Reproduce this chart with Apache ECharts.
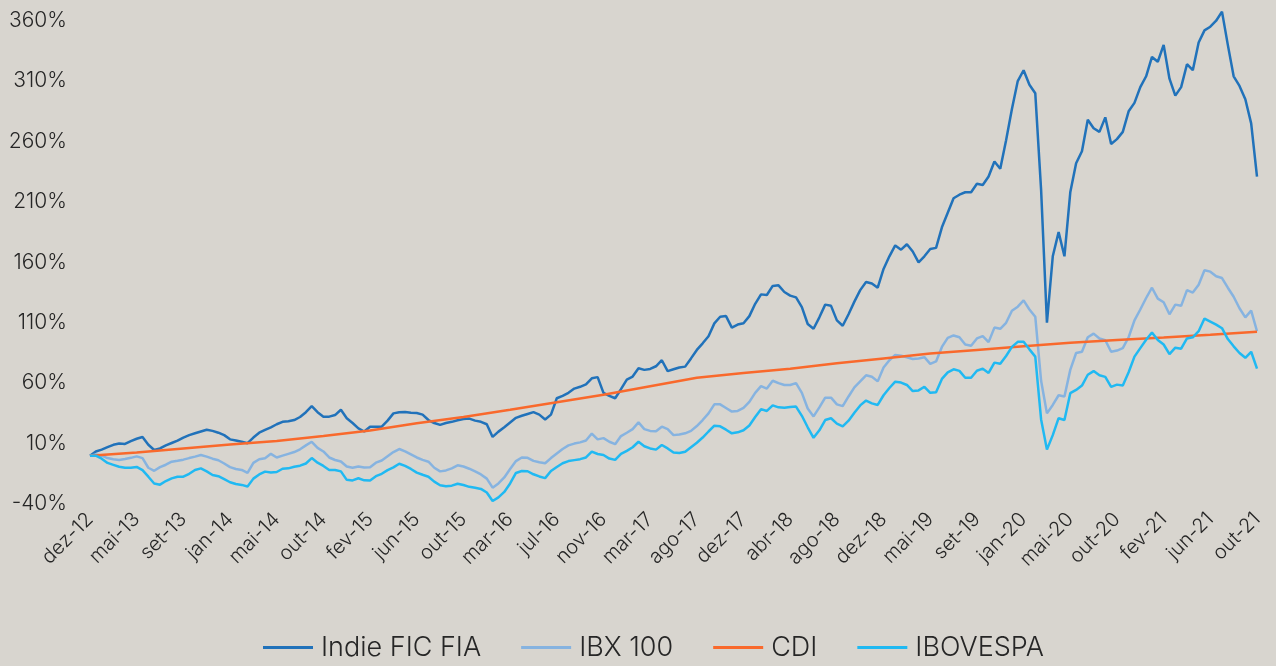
<!DOCTYPE html>
<html>
<head>
<meta charset="utf-8">
<script src="https://cdn.jsdelivr.net/npm/echarts@6/dist/echarts.min.js"></script>
<style>
html,body{margin:0;padding:0;background:#D8D5CF;}
#chart{width:1276px;height:666px;}
</style>
</head>
<body>
<div id="chart"></div>
<script>
// Tick labels (every 8th category)
const tickLabels = ['dez-12','mai-13','set-13','jan-14','mai-14','out-14','fev-15','jun-15','out-15','mar-16','jul-16','nov-16','mar-17','ago-17','dez-17','abr-18','ago-18','dez-18','mai-19','set-19','jan-20','mai-20','out-20','fev-21','jun-21','out-21'];
const stepsPerTick = 8;

// Series values (%), one per category
const indie = [0,3.5,5,7,9,10,9.7,12,14,15.5,9,4.7,6,8.5,10.5,12.5,15,17,18.5,20,21.5,20.5,19,17,13.5,12.5,11.5,10.3,15,19,21.3,23.5,26,28,28.5,29.5,32,36,41,36,32.3,32.3,33.6,38,31,27,22.6,20,24,24,24,29,35,36,36.2,35.6,35.3,34,29.5,27,25.5,27,28,29.3,30.3,30.7,29,28,26,15.5,19.9,23.5,27.5,31.3,33,34.5,36,34,30,34,47.5,49.5,52,55.5,57,59,64,65,52,49.5,47.5,55,63,65.5,72.3,71,71.8,74,79,70,71.5,73,73.7,80.5,87.5,93,98.8,109.5,115,115.5,106,108.5,109.6,115.5,125.7,133.5,133,140.5,141,135.5,132.5,131,123,109,105,114.5,125,124,112,107.5,117,127.5,137,143.8,142.5,139,154.5,165,174,170.5,175,169,160,165,171,172,189,201,213,216,218,218,225,224,231,243.5,237.5,261,287,310,319,307,300,220,110,165,185,165,218,242,252,278,271,268,280,258,262,268,285,292,305,314,330,326,340,312,298,305,324,319,342,352,355,360,367.5,340,314,306,295,275,231];
const ibx100 = [0,1,0,-2,-3,-3.6,-2.8,-1.8,-0.6,-2,-10,-12.5,-9.5,-7.5,-5,-4.2,-3.3,-2,-0.8,0.5,-0.8,-2.5,-3.8,-6.5,-9.5,-11,-11.8,-14.3,-6,-3,-2.2,1.5,-1.5,0,1.5,3,5.3,8.5,11.5,6.5,3.5,-1.5,-3.6,-4.8,-9,-10,-9,-9.8,-9.5,-5.8,-4,-0.5,3,5.5,3.5,1,-1.5,-3.5,-5,-10,-13,-12.2,-10.5,-8,-9,-10.8,-13,-15.5,-19,-26.5,-23,-18,-11,-4.5,-1.5,-1.8,-4.3,-5.5,-6.3,-2,1.8,5.5,8.5,10,11,12.5,18.3,13.5,14.5,11.5,9.5,16.2,19,22,27.5,22,20.5,20.2,24,22,17,17.5,18.5,20.5,24.5,29.5,35,42.5,42.5,39.5,36.5,37,39.5,44.5,52,57.5,55.5,62,60,58.5,58.5,60,52,39,32.5,40,48,48,42.5,41,49,56.5,61.5,66.5,65.3,61.5,73,79,83.4,82.7,81.5,80,80.5,81.5,76,78,90,97.5,99.5,98,92,91,97,99,94,106,105,110,120,123.3,128.5,121,115,62,35,42,50,49,71,85,86,98,101,97,95.5,86,87,89,98,112,121,130.5,139,130,127,117,125,124,137,135,141.5,153.5,152.3,148.5,147,139,131.5,122,114.5,120,103];
const ibovespa = [0,0,-2.5,-6,-7.6,-9.2,-10,-10,-9.3,-12,-17.4,-23,-24,-21,-18.8,-17.4,-17.4,-15,-11.8,-10.5,-13,-16,-17,-19.5,-22,-23.5,-24.2,-25.5,-19,-15.5,-13.2,-14,-13.5,-10.8,-10.5,-9.2,-8.3,-6.5,-2,-5.8,-8.5,-11.8,-11.8,-13,-20,-20.5,-18.7,-20.4,-20.5,-17,-15,-12,-9.7,-6.7,-8.5,-11,-14,-15.8,-17.4,-21.5,-24.5,-25.3,-24.8,-23.2,-24.3,-25.8,-26.6,-27.5,-30.5,-37.5,-34.5,-30,-23,-14.3,-12.7,-12.9,-15.4,-17.2,-18.6,-12.7,-9.4,-6.3,-4.5,-3.7,-2.9,-1.5,3.3,1.4,0.6,-2.4,-3.5,1.5,4,7,11.5,7.8,6,5,8.8,6,2.6,2.2,3.3,7,10.7,15,20,24.8,24.3,21.5,18.5,19.3,21,25,32,38.5,37,41.6,40,39.6,40.3,40.6,33,23.5,14.8,21,29.5,31,26.5,24.3,29,35.5,41.6,45.6,43.3,42,50,56,61.2,60.5,58.5,53.5,54,57,52,52.5,63.5,69,71.5,70.2,64.5,64.5,70.3,72,68.5,77,76,82.5,90,94.2,94.2,88,82,30,5,17,31,29.5,51.7,54.4,58,67,70,66.5,65.2,57,58.8,58,69,82,89,96,102,95.8,92,84,89.4,88.5,97,98,103,113.5,111,108.5,105.5,96.5,90.5,85,81,86,72];
// CDI read at each tick label position
const cdiAtTicks = [0,2.6,6,9.2,12.2,16.2,20.9,26.8,32,38,44.2,50.5,57.5,64.5,68.5,72,76.5,80.5,84.5,87.5,90.5,93.5,95.8,97.8,100,102.5];

const nCat = (tickLabels.length - 1) * stepsPerTick + 1;
const categories = [];
const cdi = [];
for (let i = 0; i < nCat; i++) {
  const k = i / stepsPerTick;
  const isTick = Number.isInteger(k);
  categories.push(isTick ? tickLabels[k] : '');
  cdi.push(isTick ? cdiAtTicks[k] : null);
}

const FONT = 'Inter, Lato, sans-serif';
const chart = echarts.init(document.getElementById('chart'), null, {renderer: 'canvas'});
const mk = (name, data, color) => ({
  name, type: 'line', data, showSymbol: false, symbol: 'none', clip: false,
  connectNulls: true, animation: false,
  lineStyle: {color, width: 2.5}, itemStyle: {color}
});
chart.setOption({
  backgroundColor: '#D8D5CF',
  animation: false,
  grid: {left: 90, right: 19, top: 20.7, bottom: 162, containLabel: false},
  legend: {
    bottom: 0, left: 258,
    itemWidth: 50, itemHeight: 3, itemGap: 40,
    icon: 'rect',
    textStyle: {fontFamily: FONT, fontWeight: 300, fontSize: 27, color: '#262626', padding: [0, 0, 0, 3]},
    data: ['Indie FIC FIA', 'IBX 100', 'CDI', 'IBOVESPA']
  },
  xAxis: {
    type: 'category', boundaryGap: false, data: categories,
    axisLine: {show: false}, axisTick: {show: false}, splitLine: {show: false},
    axisLabel: {interval: stepsPerTick - 1, rotate: 45, margin: 12, fontFamily: FONT, fontWeight: 300, fontSize: 20, color: '#262626'}
  },
  yAxis: {
    type: 'value', min: -40, max: 360, interval: 50,
    axisLine: {show: false}, axisTick: {show: false}, splitLine: {show: false},
    axisLabel: {margin: 23, fontFamily: FONT, fontWeight: 300, fontSize: 21, color: '#262626', formatter: v => v + '%'}
  },
  series: [
    mk('Indie FIC FIA', indie, '#2172BA'),
    mk('IBX 100', ibx100, '#86B3E0'),
    mk('CDI', cdi, '#F9692C'),
    mk('IBOVESPA', ibovespa, '#20B9F2')
  ]
});
</script>
</body>
</html>
